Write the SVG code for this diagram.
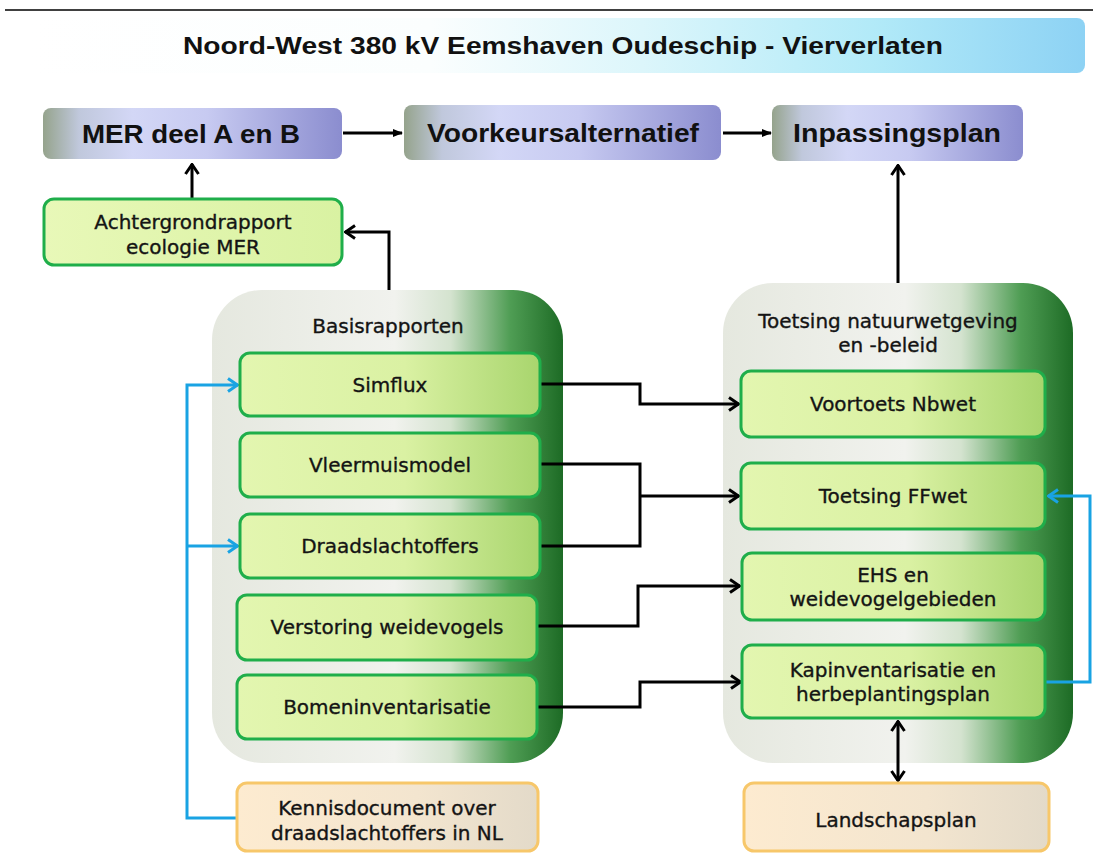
<svg xmlns="http://www.w3.org/2000/svg" width="1093" height="854" viewBox="0 0 1093 854">
<style>
.t{font-family:"DejaVu Sans",Verdana,sans-serif;font-size:20px;fill:#141414;stroke:#141414;stroke-width:0.35;text-anchor:middle}
.hb{font-family:"Liberation Sans",Arial,sans-serif;font-weight:bold;fill:#111;text-anchor:middle}
.gbox{fill:url(#gGreen);stroke:#1fae4a;stroke-width:3}
.bbox{fill:url(#gBeige);stroke:#f7c76a;stroke-width:3}
.tbox{fill:url(#gTop)}
.cont{fill:url(#gCont)}
.k{fill:none;stroke:#000;stroke-width:3}
.b{fill:none;stroke:#19a3e3;stroke-width:3}
</style>
<defs>
<linearGradient id="gTitle" x1="0" y1="0" x2="1" y2="0">
<stop offset="0" stop-color="#ffffff"/>
<stop offset="0.38" stop-color="#fbfefe"/>
<stop offset="0.58" stop-color="#dcf6fb"/>
<stop offset="0.8" stop-color="#b2eaf8"/>
<stop offset="1" stop-color="#8dd2f4"/>
</linearGradient>
<linearGradient id="gTop" x1="0" y1="0" x2="1" y2="0">
<stop offset="0" stop-color="#95a38c"/>
<stop offset="0.12" stop-color="#c0c8dc"/>
<stop offset="0.3" stop-color="#d3d7f6"/>
<stop offset="0.55" stop-color="#c7caf1"/>
<stop offset="1" stop-color="#8b8dcf"/>
</linearGradient>
<linearGradient id="gCont" x1="0" y1="0" x2="1" y2="0">
<stop offset="0" stop-color="#e5e8df"/>
<stop offset="0.52" stop-color="#f1f2ee"/>
<stop offset="0.68" stop-color="#d4e3cf"/>
<stop offset="0.85" stop-color="#4f9d54"/>
<stop offset="1" stop-color="#1d6b25"/>
</linearGradient>
<linearGradient id="gGreen" x1="0" y1="0" x2="1" y2="0">
<stop offset="0" stop-color="#e3f6b0"/>
<stop offset="0.55" stop-color="#daf1a3"/>
<stop offset="1" stop-color="#a8d56d"/>
</linearGradient>
<linearGradient id="gAcht" x1="0" y1="0" x2="1" y2="0">
<stop offset="0" stop-color="#e8f8b8"/>
<stop offset="1" stop-color="#d9f2a2"/>
</linearGradient>
<linearGradient id="gBeige" x1="0" y1="0" x2="1" y2="0">
<stop offset="0" stop-color="#fdebd0"/>
<stop offset="0.6" stop-color="#f3e5cf"/>
<stop offset="1" stop-color="#e3dac9"/>
</linearGradient>
<marker id="mK" viewBox="0 0 12 16" refX="11" refY="8" markerWidth="12" markerHeight="16" markerUnits="userSpaceOnUse" orient="auto-start-reverse">
<path d="M1,1.5 L10.5,8 L1,14.5" fill="none" stroke="#000" stroke-width="3"/>
</marker>
<marker id="mB" viewBox="0 0 12 16" refX="11" refY="8" markerWidth="12" markerHeight="16" markerUnits="userSpaceOnUse" orient="auto">
<path d="M1,1.5 L10.5,8 L1,14.5" fill="none" stroke="#19a3e3" stroke-width="3"/>
</marker>
<marker id="mT" viewBox="0 0 10 10" refX="9" refY="5" markerWidth="10" markerHeight="10" markerUnits="userSpaceOnUse" orient="auto">
<path d="M0,1 L10,5 L0,9 z" fill="#000"/>
</marker>
</defs>

<rect width="1093" height="854" fill="#ffffff"/>
<line x1="5" y1="10" x2="1093" y2="10" stroke="#000" stroke-width="1.5"/>

<g id="title">
<rect x="30" y="18" width="1055" height="55" rx="8" fill="url(#gTitle)"/>
<text class="hb" x="563" y="54" font-size="23" textLength="760" lengthAdjust="spacingAndGlyphs">Noord-West 380 kV Eemshaven Oudeschip - Vierverlaten</text>
</g>

<g id="basis-container">
<rect class="cont" x="212" y="290" width="351" height="473" rx="50"/>
<text class="t" x="388" y="333">Basisrapporten</text>
</g>
<g id="toetsing-container">
<rect class="cont" x="723" y="283" width="350" height="480" rx="50"/>
<text class="t" x="888" y="328">Toetsing natuurwetgeving</text>
<text class="t" x="888" y="352">en -beleid</text>
</g>

<g id="connectors">
<line class="k" x1="343" y1="133" x2="402" y2="133" marker-end="url(#mT)"/>
<line class="k" x1="723" y1="133" x2="771" y2="133" marker-end="url(#mT)"/>
<line class="k" x1="192" y1="199" x2="192" y2="164" marker-end="url(#mK)"/>
<polyline class="k" points="389,290 389,232 345,232" marker-end="url(#mK)"/>
<line class="k" x1="898" y1="283" x2="898" y2="165" marker-end="url(#mK)"/>
<polyline class="k" points="541,384 640,384 640,404 739,404" marker-end="url(#mK)"/>
<polyline class="k" points="541,464 640,464 640,546 541,546"/>
<line class="k" x1="640" y1="496" x2="739" y2="496" marker-end="url(#mK)"/>
<polyline class="k" points="537,626 638,626 638,586 740,586" marker-end="url(#mK)"/>
<polyline class="k" points="537,707 640,707 640,682 741,682" marker-end="url(#mK)"/>
<line class="k" x1="898" y1="721" x2="898" y2="781" marker-start="url(#mK)" marker-end="url(#mK)"/>
<polyline class="b" points="237,818 187,818 187,385 238,385" marker-end="url(#mB)"/>
<line class="b" x1="187" y1="546" x2="238" y2="546" marker-end="url(#mB)"/>
<polyline class="b" points="1046,682 1090,682 1090,496 1048,496" marker-end="url(#mB)"/>
</g>

<g id="mer">
<rect class="tbox" x="43" y="108" width="299" height="51" rx="8"/>
<text class="hb" x="191" y="143" font-size="26" textLength="218" lengthAdjust="spacingAndGlyphs">MER deel A en B</text>
</g>
<g id="voorkeur">
<rect class="tbox" x="404" y="105" width="317" height="55" rx="8"/>
<text class="hb" x="563" y="142" font-size="26" textLength="272" lengthAdjust="spacingAndGlyphs">Voorkeursalternatief</text>
</g>
<g id="inpassing">
<rect class="tbox" x="772" y="105" width="251" height="56" rx="8"/>
<text class="hb" x="897" y="142" font-size="26" textLength="208" lengthAdjust="spacingAndGlyphs">Inpassingsplan</text>
</g>

<g id="achtergrond">
<rect x="44" y="199" width="298" height="66" rx="10" fill="url(#gAcht)" stroke="#1fae4a" stroke-width="3"/>
<text class="t" x="193" y="229">Achtergrondrapport</text>
<text class="t" x="193" y="254">ecologie MER</text>
</g>

<g id="simflux">
<rect class="gbox" x="240" y="353" width="300" height="63" rx="10"/>
<text class="t" x="390" y="392">Simflux</text>
</g>
<g id="vleermuis">
<rect class="gbox" x="240" y="433" width="300" height="64" rx="10"/>
<text class="t" x="390" y="472">Vleermuismodel</text>
</g>
<g id="draad">
<rect class="gbox" x="240" y="514" width="300" height="64" rx="10"/>
<text class="t" x="390" y="553">Draadslachtoffers</text>
</g>
<g id="verstoring">
<rect class="gbox" x="237" y="595" width="300" height="65" rx="10"/>
<text class="t" x="387" y="634">Verstoring weidevogels</text>
</g>
<g id="bomen">
<rect class="gbox" x="237" y="675" width="300" height="64" rx="10"/>
<text class="t" x="387" y="714">Bomeninventarisatie</text>
</g>

<g id="voortoets">
<rect class="gbox" x="741" y="371" width="304" height="66" rx="10"/>
<text class="t" x="893" y="411">Voortoets Nbwet</text>
</g>
<g id="ffwet">
<rect class="gbox" x="741" y="463" width="304" height="66" rx="10"/>
<text class="t" x="893" y="503">Toetsing FFwet</text>
</g>
<g id="ehs">
<rect class="gbox" x="742" y="553" width="303" height="67" rx="10"/>
<text class="t" x="893" y="582">EHS en</text>
<text class="t" x="893" y="606">weidevogelgebieden</text>
</g>
<g id="kap">
<rect class="gbox" x="742" y="645" width="303" height="73" rx="10"/>
<text class="t" x="893" y="677">Kapinventarisatie en</text>
<text class="t" x="893" y="701">herbeplantingsplan</text>
</g>

<g id="kennis">
<rect class="bbox" x="237" y="783" width="301" height="68" rx="10"/>
<text class="t" x="387" y="815">Kennisdocument over</text>
<text class="t" x="387" y="840">draadslachtoffers in NL</text>
</g>
<g id="landschap">
<rect class="bbox" x="744" y="783" width="305" height="68" rx="10"/>
<text class="t" x="896" y="827">Landschapsplan</text>
</g>
</svg>
